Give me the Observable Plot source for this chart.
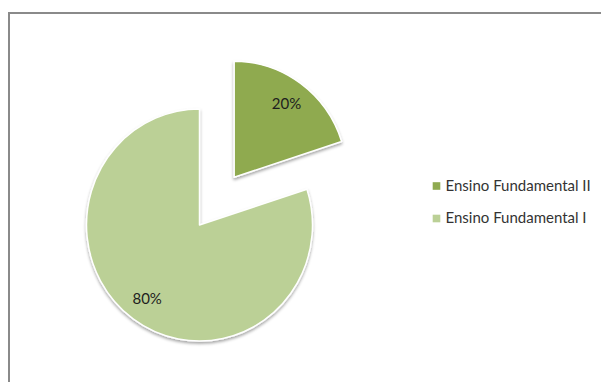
<!DOCTYPE html>
<html><head><meta charset="utf-8">
<script src="https://cdn.jsdelivr.net/npm/d3@7"></script>
<script src="https://cdn.jsdelivr.net/npm/@observablehq/plot@0.6"></script>
<style>body{margin:0;background:#fff;}</style>
</head><body><div id="chart"></div>
<script>
const categories = ["Ensino Fundamental II", "Ensino Fundamental I"];
const values = [20, 80];
const labels = ["20%", "80%"];
const data = categories.map((c, i) => ({category: c, value: values[i], label: labels[i], i}));

const W = 601, H = 382;
const pieCenter = [199.5, 225], radius = 113, stretchY = 116 / 113, explode = 59, labelRadius = 89;
const legendX = 436, legendY = [185.5, 218];
const colorRange = ["#8FAA50", "#BBD096"];

function pieMark(index, scales, vals, dims) {
  const g = d3.create("svg:g");
  const defs = g.append("defs");
  const f = defs.append("filter").attr("id", "shadow").attr("x", "-20%").attr("y", "-20%").attr("width", "140%").attr("height", "140%");
  f.append("feDropShadow").attr("dx", 0).attr("dy", 2).attr("stdDeviation", 1.8).attr("flood-color", "#000").attr("flood-opacity", 0.35);
  // chart frame
  g.append("path")
    .attr("d", `M${scales.x(9)},${scales.y(H)}V${scales.y(13)}H${scales.x(W)}`)
    .attr("fill", "none").attr("stroke", "#8a8a8a").attr("stroke-width", 2);
  const color = scales.color || d3.scaleOrdinal(categories, colorRange);
  const arcs = d3.pie().sort(null).value(d => d.value)(data);
  const arc = d3.arc().innerRadius(0).outerRadius(radius);
  const cx = scales.x(pieCenter[0]), cy = scales.y(pieCenter[1]);
  arcs.forEach((a, k) => {
    const mid = (a.startAngle + a.endAngle) / 2;
    const off = k === 0 ? explode : 0;
    const tx = cx + off * Math.sin(mid), ty = cy - off * Math.cos(mid);
    const s = g.append("g").attr("transform", `translate(${tx},${ty})`);
    s.append("path").attr("d", arc(a)).attr("fill", color(a.data.category))
      .attr("transform", `scale(1,${stretchY})`)
      .attr("stroke", "#fff").attr("stroke-width", 1.5).attr("stroke-linejoin", "round")
      .attr("filter", "url(#shadow)");
    const [lx, ly] = [labelRadius * Math.sin(mid), -labelRadius * Math.cos(mid) * stretchY];
    s.append("text").attr("x", lx).attr("y", ly).attr("text-anchor", "middle").attr("dy", "0.35em")
      .attr("font-size", 15).attr("fill", "#1e1e1e").text(a.data.label);
  });
  return g.node();
}

const chart = Plot.plot({
  width: W, height: H,
  margin: 0,
  style: {fontFamily: "Lato, 'Open Sans', sans-serif", background: "#fff"},
  x: {domain: [0, W], range: [0, W], axis: null},
  y: {domain: [0, H], range: [0, H], axis: null},
  color: {domain: categories, range: colorRange},
  marks: [
    pieMark,
    Plot.dot(data, {x: () => legendX, y: d => legendY[d.i], fill: "category", symbol: "square", r: 4.3, stroke: null}),
    Plot.text(data, {x: () => legendX + 9, y: d => legendY[d.i], text: "category", textAnchor: "start", fontSize: 15, fill: "#333"})
  ]
});
document.getElementById("chart").append(chart);
</script>
</body></html>
